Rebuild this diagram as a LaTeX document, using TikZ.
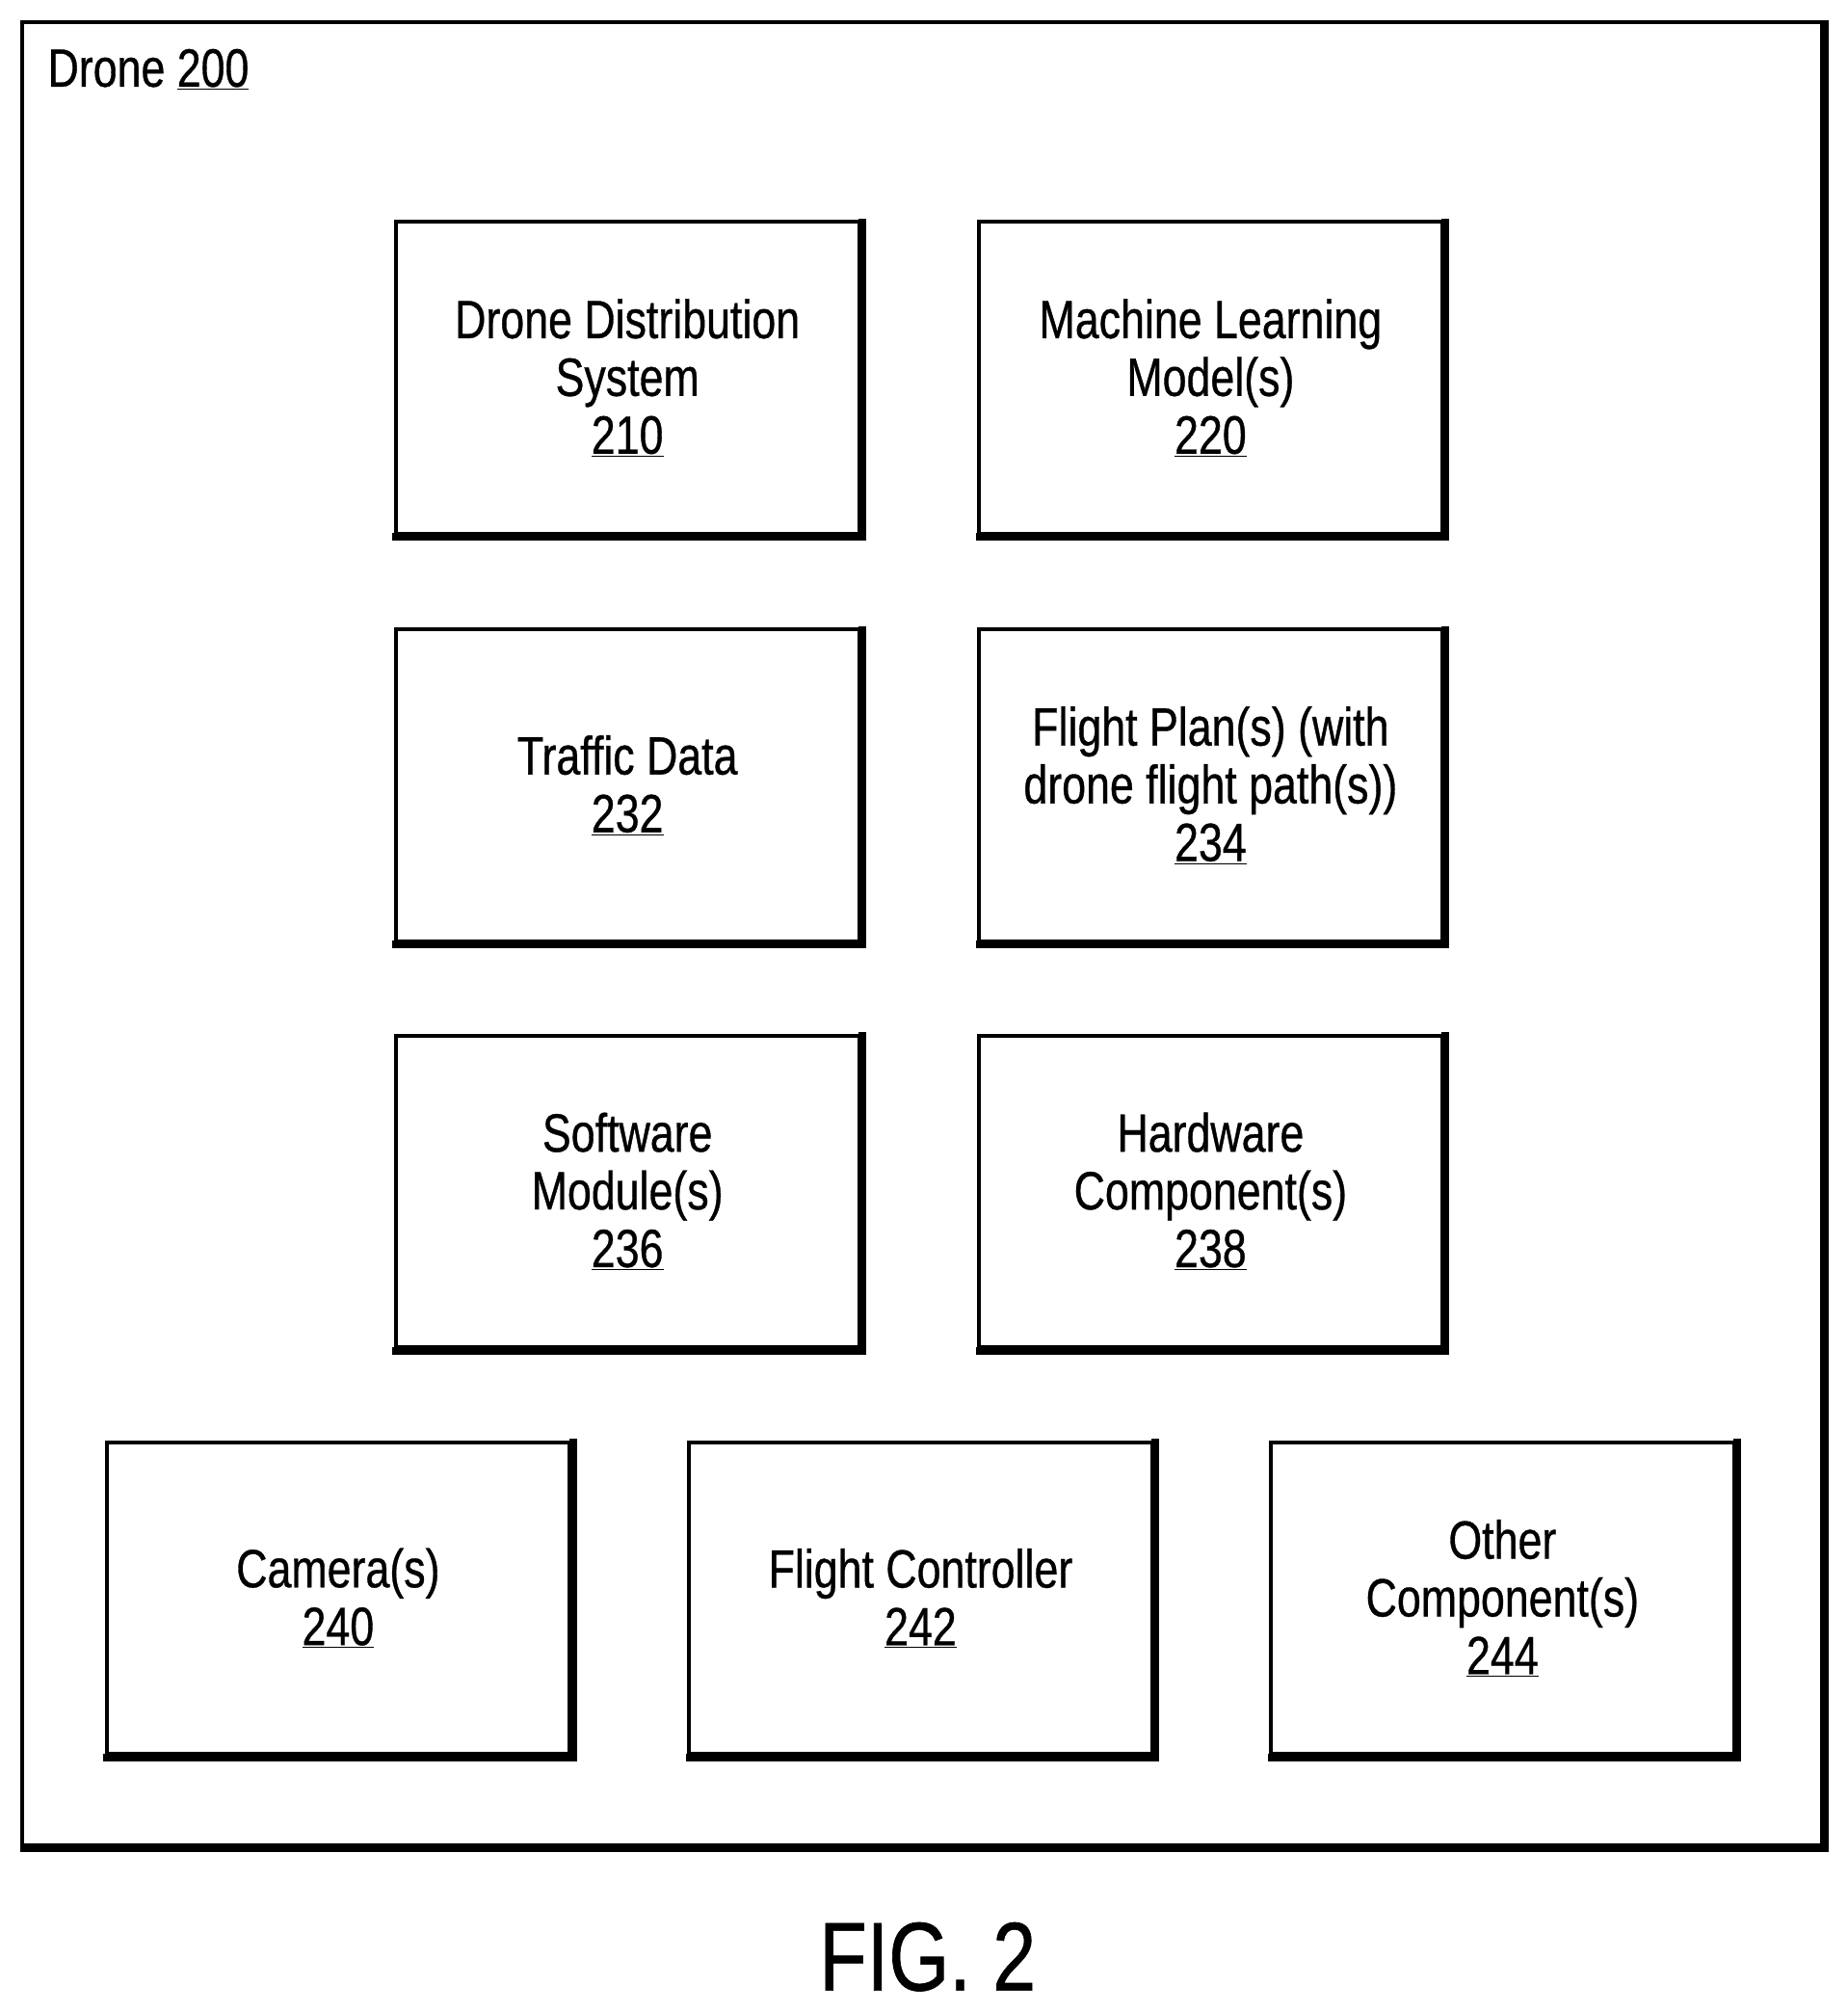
\documentclass[tikz,border=0pt]{standalone}
\usepackage{fontspec}
\setmainfont[FakeStretch=0.8,FakeBold=0.6]{Liberation Sans}
\begin{document}
\begin{tikzpicture}[x=1pt,y=-1pt,
  blk/.style={draw,line width=3pt,minimum width=361pt,minimum height=243pt,align=center,font=\fontsize{42}{45}\selectfont,inner sep=0pt}]
\useasboundingbox (0,0) rectangle (1440,1568);
\newcommand{\shbox}[4]{%
  \node[blk] (#1) at (#2,#3) {#4};
  \draw[line width=6pt] ([xshift=1pt,yshift=1pt]#1.north east) -- ([xshift=1pt,yshift=-1pt]#1.south east) -- ([xshift=-1pt,yshift=-1pt]#1.south west);}
\node[draw,line width=3pt,minimum width=1403pt,minimum height=1421pt,inner sep=0pt] (drone) at (718.5,727.5) {};
\draw[line width=6pt] ([xshift=1pt]drone.north east) -- ([xshift=1pt,yshift=-1pt]drone.south east) -- ([yshift=-1pt]drone.south west);
\node[anchor=north west,font=\fontsize{42}{45}\selectfont,inner sep=0pt] (lbl) at (37,38) {Drone \underline{200}};
\shbox{a}{489}{294.5}{Drone Distribution\\System\\\underline{210}}
\shbox{b}{943.5}{294.5}{Machine Learning\\Model(s)\\\underline{220}}
\shbox{c}{489}{612}{Traffic Data\\\underline{232}}
\shbox{d}{943.5}{612}{Flight Plan(s) (with\\drone flight path(s))\\\underline{234}}
\shbox{e}{489}{928.5}{Software\\Module(s)\\\underline{236}}
\shbox{f}{943.5}{928.5}{Hardware\\Component(s)\\\underline{238}}
\shbox{g}{263.5}{1245.5}{Camera(s)\\\underline{240}}
\shbox{h}{717.5}{1245.5}{Flight Controller\\\underline{242}}
\shbox{i}{1171}{1245.5}{Other\\Component(s)\\\underline{244}}
\node[font=\fontsize{76}{80}\selectfont,inner sep=0pt] (fig) at (723,1525) {FIG. 2};
\end{tikzpicture}
\end{document}
